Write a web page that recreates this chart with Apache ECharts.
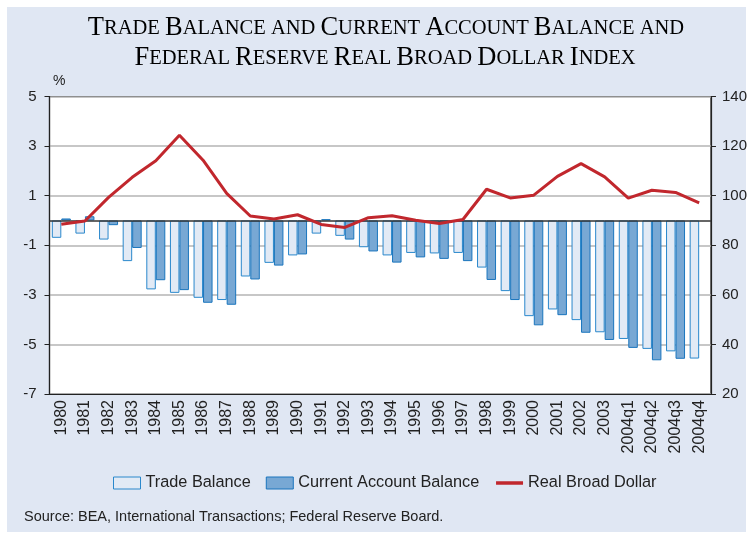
<!DOCTYPE html>
<html>
<head>
<meta charset="utf-8">
<script src="https://cdn.jsdelivr.net/npm/echarts@6/dist/echarts.min.js"></script>
<style>
  html, body { margin: 0; padding: 0; background: #fff; }
  #chart { width: 750px; height: 536px; }
</style>
</head>
<body>
<div id="chart"></div>
<script>
// categories and values
var years = ['1980', '1981', '1982', '1983', '1984', '1985', '1986', '1987', '1988', '1989',
  '1990', '1991', '1992', '1993', '1994', '1995', '1996', '1997', '1998', '1999',
  '2000', '2001', '2002', '2003', '2004q1', '2004q2', '2004q3', '2004q4']
var tradeBalance = [-0.7, -0.53, -0.77, -1.64, -2.78, -2.92, -3.12, -3.21, -2.26, -1.71,
  -1.41, -0.53, -0.62, -1.08, -1.41, -1.31, -1.33, -1.31, -1.9, -2.85,
  -3.86, -3.59, -4.02, -4.51, -4.78, -5.18, -5.28, -5.57]
var currentAccount = [0.08, 0.17, -0.19, -1.11, -2.41, -2.81, -3.32, -3.4, -2.38, -1.82,
  -1.37, 0.05, -0.77, -1.25, -1.7, -1.49, -1.55, -1.64, -2.4, -3.21,
  -4.23, -3.82, -4.53, -4.82, -5.14, -5.64, -5.58, null]
var realBroadDollar = [88.5, 89.8, 99.3, 107.4, 114.1, 124.4, 114.3, 100.9, 91.8, 90.6,
  92.3, 88.4, 87.2, 91.1, 91.9, 90.1, 88.8, 90.4, 102.6, 99.1,
  100.2, 107.8, 112.9, 107.6, 99.0, 102.2, 101.3, 97.1]
var titleLines = ['Trade Balance and Current Account Balance and',
  'Federal Reserve Real Broad Dollar Index']

// fake small caps with rich text: first letter big, the rest small
function smallCaps (line) {
  return line.split(' ').map(function (w) {
    if (w === w.toLowerCase()) return '{s|' + w.toUpperCase() + '}'
    return '{b|' + w.charAt(0) + '}{s|' + w.slice(1).toUpperCase() + '}'
  }).join('{s| }')
}

var titleRich = {
  b: { fontFamily: 'Liberation Serif', fontSize: 26.5, color: '#1a1a1a' },
  s: { fontFamily: 'Liberation Serif', fontSize: 20.5, color: '#1a1a1a' }
}

var chart = echarts.init(document.getElementById('chart'))
chart.setOption({
  animation: false,
  backgroundColor: '#fff',
  textStyle: { fontFamily: 'Liberation Sans' },
  graphic: [
    { type: 'rect', z: -10, shape: { x: 7, y: 7, width: 739, height: 525 }, style: { fill: '#e0e7f3' } },
    { type: 'text', x: 386, y: 15, style: { text: smallCaps(titleLines[0]), rich: titleRich, align: 'center', verticalAlign: 'top' } },
    { type: 'text', x: 385, y: 45, style: { text: smallCaps(titleLines[1]), rich: titleRich, align: 'center', verticalAlign: 'top' } },
    { type: 'text', left: 53, top: 74, style: { text: '%', font: '14px Liberation Sans', fill: '#222' } },
    { type: 'text', left: 24, top: 509, style: { text: 'Source: BEA, International Transactions; Federal Reserve Board.', font: '14.5px Liberation Sans', fill: '#222' } }
  ],
  legend: {
    bottom: 40,
    left: 108,
    itemWidth: 27,
    itemHeight: 12,
    itemGap: 15,
    textStyle: { fontSize: 16.3, color: '#222' },
    data: [
      { name: 'Trade Balance', icon: 'rect', itemStyle: { borderWidth: 1 } },
      { name: 'Current Account Balance', icon: 'rect', itemStyle: { borderWidth: 1 } },
      { name: 'Real Broad Dollar', itemStyle: { color: 'rgba(0,0,0,0)', borderWidth: 0 }, lineStyle: { width: 3.5 } }
    ]
  },
  grid: {
    left: 49.5,
    right: 38.5,
    top: 96.5,
    bottom: 142,
    show: true,
    backgroundColor: '#fff',
    borderColor: '#222',
    borderWidth: 1.2
  },
  xAxis: {
    type: 'category',
    data: years,
    axisLine: { onZero: false, lineStyle: { color: '#222', width: 1.2 } },
    axisTick: { show: false },
    axisLabel: { rotate: 90, fontSize: 16, color: '#222', margin: 6, interval: 0 }
  },
  yAxis: [
    {
      type: 'value',
      min: -7,
      max: 5,
      interval: 2,
      axisLine: { show: true, lineStyle: { color: '#222', width: 1.2 } },
      axisTick: { show: true, length: 5, lineStyle: { color: '#222' } },
      axisLabel: { fontSize: 15, color: '#222', margin: 13 },
      splitLine: { lineStyle: { color: '#b4b4b4', width: 1.5 } }
    },
    {
      type: 'value',
      min: 20,
      max: 140,
      interval: 20,
      axisLine: { show: true, lineStyle: { color: '#222', width: 1.2 } },
      axisTick: { show: true, length: 5, lineStyle: { color: '#222' } },
      axisLabel: { fontSize: 15, color: '#222', margin: 11 },
      splitLine: { show: false }
    }
  ],
  series: [
    {
      name: 'Trade Balance',
      type: 'bar',
      data: tradeBalance,
      barWidth: 9.5,
      barGap: '0%',
      itemStyle: { color: '#e2eaf5', borderColor: '#2a88cc', borderWidth: 1 },
      markLine: {
        silent: true,
        symbol: 'none',
        label: { show: false },
        lineStyle: { color: '#333', width: 1.5, type: 'solid' },
        data: [{ yAxis: 0 }]
      }
    },
    {
      name: 'Current Account Balance',
      type: 'bar',
      data: currentAccount,
      barWidth: 9.5,
      itemStyle: { color: '#78a8d4', borderColor: '#1a75bd', borderWidth: 1 }
    },
    {
      name: 'Real Broad Dollar',
      type: 'line',
      yAxisIndex: 1,
      data: realBroadDollar,
      symbol: 'none',
      z: 5,
      lineStyle: { color: '#c1272d', width: 3 },
      itemStyle: { color: '#c1272d' }
    }
  ]
})
</script>
</body>
</html>
